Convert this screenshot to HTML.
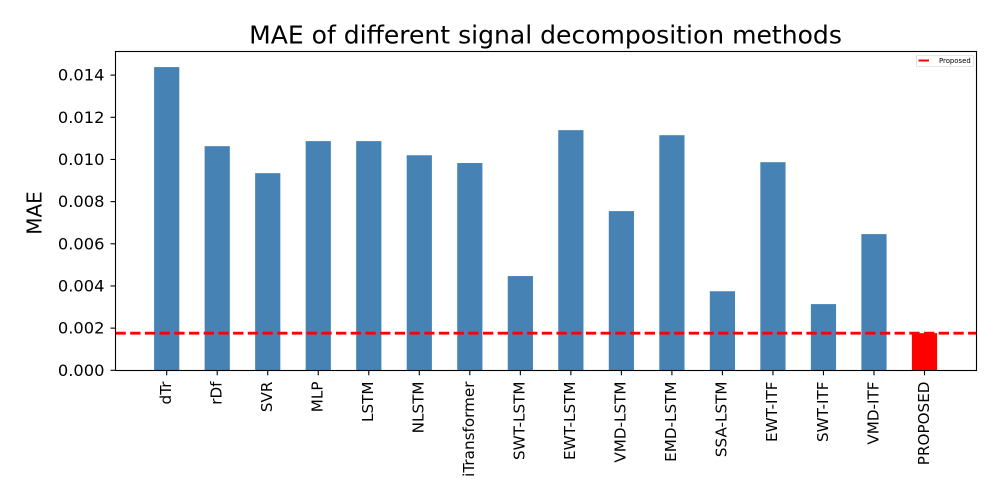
<!DOCTYPE html>
<html lang="en">
<head>
<meta charset="utf-8">
<title>MAE of different signal decomposition methods</title>
<style>
html,body{margin:0;padding:0;background:#fff;width:1000px;height:500px;overflow:hidden}
svg{display:block}
text{font-family:"DejaVu Sans","Liberation Sans",sans-serif;fill:#000}
</style>
</head>
<body>
<svg id="chart" xmlns="http://www.w3.org/2000/svg" width="1000" height="500" viewBox="0 0 1000 500">
<rect width="1000" height="500" fill="#fff"/>
<text x="545.5" y="43.5" font-size="25.05" text-anchor="middle">MAE of different signal decomposition methods</text>
<text transform="translate(41.5,213) rotate(-90)" font-size="20" text-anchor="middle">MAE</text>
<g id="bars"></g>
<g id="ref"></g>
<g id="yaxis"></g>
<g id="xaxis"></g>
<rect x="115.5" y="51.5" width="861" height="319" fill="none" stroke="#000" stroke-width="1.1"/>
<g>
<rect x="916.5" y="55.5" width="57" height="11" rx="1" fill="#fff" stroke="#ddd" stroke-width="0.8"/>
<line x1="918.5" y1="60.5" x2="929" y2="60.5" stroke="#f00" stroke-width="2"/>
<text x="939" y="63" font-size="6.9">Proposed</text>
</g>
</svg>
<script>
const categories = ["dTr","rDf","SVR","MLP","LSTM","NLSTM","iTransformer","SWT-LSTM","EWT-LSTM","VMD-LSTM","EMD-LSTM","SSA-LSTM","EWT-ITF","SWT-ITF","VMD-ITF","PROPOSED"];
const maeValues = [0.01438,0.01063,0.00935,0.01087,0.01087,0.0102,0.00983,0.00447,0.01139,0.00755,0.01115,0.00375,0.00987,0.00314,0.00646,0.00176];
const yTickValues = [0,0.002,0.004,0.006,0.008,0.010,0.012,0.014];
const yTickLabels = ["0.000","0.002","0.004","0.006","0.008","0.010","0.012","0.014"];
const proposedLevel = [0.00176];

const NS = "http://www.w3.org/2000/svg";
const plotLeft = 115.5, plotRight = 976.5, plotBottom = 370.3, plotTop = 51.5;
const yMax = 0.01512;
const slotStart = 166.7, slotStep = 50.52, barWidth = 25.2;
function xScale(i){ return slotStart + i * slotStep; }
function yScale(v){ return plotBottom - (v / yMax) * (plotBottom - plotTop); }
function make(tag, attrs, parent){
  const el = document.createElementNS(NS, tag);
  for (const k in attrs) el.setAttribute(k, attrs[k]);
  parent.appendChild(el);
  return el;
}
const barsG = document.getElementById("bars");
const xG = document.getElementById("xaxis");
const yG = document.getElementById("yaxis");
const refG = document.getElementById("ref");

categories.forEach(function(cat, i){
  const top = yScale(maeValues[i]);
  const bar = make("rect", {x: xScale(i) - barWidth / 2, y: top, width: barWidth, height: plotBottom - top, fill: i === categories.length - 1 ? "#ff0000" : "#4682b4"}, barsG);
  
  
  const tick = make("line", {x1: xScale(i), x2: xScale(i), y1: plotBottom, y2: plotBottom + 5, stroke: "#000", "stroke-width": 1.1}, xG);
  
  
  const label = make("text", {transform: "translate(" + (xScale(i) + 4.3) + ",381.5) rotate(-90)", "font-size": 15.2, "text-anchor": "end"}, xG);
  
  
  label.textContent = cat;
});

yTickValues.forEach(function(v, i){
  const tick = make("line", {x1: plotLeft - 5, x2: plotLeft, y1: yScale(v), y2: yScale(v), stroke: "#000", "stroke-width": 1.1}, yG);
  
  
  const label = make("text", {x: 104.5, y: yScale(v) + 5.5, "font-size": 16.3, "text-anchor": "end"}, yG);
  
  
  label.textContent = yTickLabels[i];
});

const refLine = make("line", {x1: plotLeft, x2: plotRight, y1: yScale(proposedLevel[0]), y2: yScale(proposedLevel[0]), stroke: "#ff0000", "stroke-width": 2.8, "stroke-dasharray": "10.3 4.4"}, refG);


</script>
</body>
</html>
